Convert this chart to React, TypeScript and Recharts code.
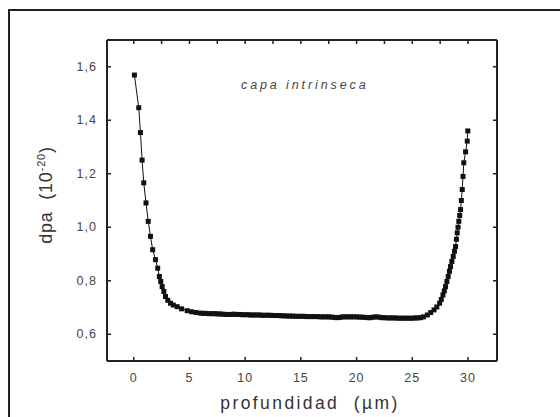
import React from 'react';
import { LineChart, Line, XAxis, YAxis } from 'recharts';

// profundidad (µm)
const depth = [
  0.06, 0.45, 0.6, 0.75, 0.9, 1.1, 1.3, 1.5, 1.7, 1.95, 2.15, 2.3, 2.42, 2.55, 2.7, 2.85, 3.05, 3.3, 3.55, 3.9,
  4.3, 4.8, 5.2, 5.6, 6.0,
  6.25, 6.5, 6.75, 7, 7.25, 7.5, 7.75, 8, 8.25, 8.5, 8.75, 9, 9.25, 9.5, 9.75, 10, 10.25, 10.5, 10.75, 11,
  11.25, 11.5, 11.75, 12, 12.25, 12.5, 12.75, 13, 13.25, 13.5, 13.75, 14, 14.25, 14.5, 14.75, 15, 15.25, 15.5,
  15.75, 16, 16.25, 16.5, 16.75, 17, 17.25, 17.5, 17.75, 18, 18.25, 18.5, 18.75, 19, 19.25, 19.5, 19.75, 20,
  20.25, 20.5, 20.75, 21, 21.25, 21.5, 21.75, 22, 22.25, 22.5, 22.75, 23, 23.25, 23.5, 23.75, 24, 24.25, 24.5,
  24.75, 25, 25.25, 25.5,
  25.75, 26.0, 26.35, 26.65, 26.95, 27.2, 27.45, 27.6, 27.75, 27.87, 27.98, 28.1, 28.22, 28.33, 28.43, 28.55,
  28.67, 28.78, 28.88, 28.96, 29.03, 29.1, 29.17, 29.25, 29.33, 29.4, 29.48, 29.55, 29.62, 29.78, 29.93, 29.98,
];

// dpa (10^-20)
const dpa = [
  1.569, 1.447, 1.354, 1.251, 1.166, 1.091, 1.022, 0.966, 0.916, 0.879, 0.847, 0.816, 0.797, 0.778, 0.76, 0.741,
  0.727, 0.716, 0.709, 0.703, 0.695, 0.688, 0.684, 0.681, 0.679,
  0.678, 0.678, 0.677, 0.677, 0.677, 0.676, 0.676, 0.675, 0.674, 0.674, 0.674, 0.675, 0.674, 0.674, 0.673, 0.673,
  0.673, 0.672, 0.672, 0.672, 0.672, 0.671, 0.671, 0.671, 0.671, 0.67, 0.67, 0.67, 0.669, 0.669, 0.668, 0.668,
  0.668, 0.667, 0.667, 0.667, 0.667, 0.666, 0.666, 0.666, 0.666, 0.666, 0.665, 0.665, 0.665, 0.665, 0.664, 0.663,
  0.662, 0.663, 0.665, 0.665, 0.665, 0.665, 0.665, 0.665, 0.664, 0.664, 0.663, 0.662, 0.662, 0.664, 0.665, 0.664,
  0.662, 0.662, 0.661, 0.661, 0.661, 0.661, 0.66, 0.66, 0.66, 0.66, 0.66, 0.66, 0.661, 0.661,
  0.662, 0.665, 0.672, 0.681, 0.691, 0.702, 0.716, 0.73, 0.747, 0.762, 0.778, 0.797, 0.816, 0.835, 0.853, 0.872,
  0.891, 0.91, 0.928, 0.955, 0.979, 1.0, 1.022, 1.044, 1.066, 1.1, 1.141, 1.19, 1.241, 1.282, 1.322, 1.36,
];

const xTicks = [0, 5, 10, 15, 20, 25, 30];
const xMinorTicks = [0, 2.5, 5, 7.5, 10, 12.5, 15, 17.5, 20, 22.5, 25, 27.5, 30];
const yTicks = [0.6, 0.8, 1.0, 1.2, 1.4, 1.6];

const data = depth.map((x, i) => ({ x, y: dpa[i] }));

const FONT = '"Liberation Sans", Arial, sans-serif';
const INK = '#222';

const BottomTick = (props: any) => {
  const { x, y, payload } = props;
  return (
    <g>
      <line x1={x} y1={y} x2={x} y2={y - 4} stroke={INK} strokeWidth={1.5} />
      <text x={x} y={y + 21} textAnchor="middle" fontSize={12.5} fill="#444" fontFamily={FONT} letterSpacing={1}>
        {payload.value}
      </text>
    </g>
  );
};

const TopTick = (props: any) => {
  const { x, y } = props;
  return <line x1={x} y1={y} x2={x} y2={y + 4} stroke={INK} strokeWidth={1.5} />;
};

const LeftTick = (props: any) => {
  const { x, y, payload } = props;
  return (
    <g>
      <line x1={x} y1={y} x2={x + 4} y2={y} stroke={INK} strokeWidth={1.5} />
      <text x={x - 10} y={y + 4} textAnchor="end" fontSize={12.5} fill="#444" fontFamily={FONT} letterSpacing={1}>
        {Number(payload.value).toFixed(1).replace('.', ',')}
      </text>
    </g>
  );
};

const RightTick = (props: any) => {
  const { x, y } = props;
  return <line x1={x} y1={y} x2={x - 4} y2={y} stroke={INK} strokeWidth={1.5} />;
};

const SquareDot = (props: any) => {
  const { cx, cy, index } = props;
  if (cx == null || cy == null) return null;
  return <rect key={`d-${index}`} x={cx - 2.5} y={cy - 2.5} width={5} height={5} fill="#111" />;
};

export default function App() {
  return (
    <div style={{ position: 'absolute', left: 0, top: 0, width: 560, height: 417, overflow: 'hidden', background: '#fff' }}>
      <div
        style={{
          position: 'absolute', left: 8, top: 9, width: 700, height: 600,
          borderLeft: `2px solid ${INK}`, borderTop: `2px solid ${INK}`,
        }}
      />
      <LineChart width={560} height={417} data={data} margin={{ top: 39, right: 62, bottom: 16, left: 47 }}>
        <XAxis
          xAxisId="b" dataKey="x" type="number" domain={[-2.4, 32.6]} ticks={xTicks} allowDataOverflow
          height={40} tickSize={0} tickMargin={0} tickLine={false} tick={<BottomTick />}
          axisLine={{ stroke: INK, strokeWidth: 2 }}
        />
        <XAxis
          xAxisId="t" orientation="top" dataKey="x" type="number" domain={[-2.4, 32.6]} ticks={xMinorTicks}
          allowDataOverflow height={1} tickSize={0} tickMargin={0} tickLine={false} tick={<TopTick />}
          axisLine={{ stroke: INK, strokeWidth: 2 }}
        />
        <YAxis
          yAxisId="l" type="number" domain={[0.5, 1.7]} ticks={yTicks} allowDataOverflow width={60}
          tickSize={0} tickMargin={0} tickLine={false} tick={<LeftTick />}
          axisLine={{ stroke: INK, strokeWidth: 2 }}
        />
        <YAxis
          yAxisId="r" orientation="right" type="number" domain={[0.5, 1.7]} ticks={yTicks} allowDataOverflow
          width={1} tickSize={0} tickMargin={0} tickLine={false} tick={<RightTick />}
          axisLine={{ stroke: INK, strokeWidth: 2 }}
        />
        <Line
          xAxisId="b" yAxisId="l" dataKey="y" type="linear" stroke="#111" strokeWidth={1}
          dot={<SquareDot />} activeDot={false} isAnimationActive={false}
        />
      </LineChart>
      <div
        style={{
          position: 'absolute', left: 241, top: 78, fontFamily: FONT, fontStyle: 'italic', fontSize: 12.5,
          letterSpacing: 2.9, color: '#444', whiteSpace: 'nowrap',
        }}
      >
        capa intrinseca
      </div>
      <div
        style={{
          position: 'absolute', left: 46, top: 195, transform: 'translate(-50%, -50%) rotate(-90deg)',
          fontFamily: FONT, fontSize: 18, letterSpacing: 0.8, color: '#333', whiteSpace: 'nowrap',
        }}
      >
        dpa&nbsp;&nbsp;(10<sup style={{ fontSize: 11 }}>-20</sup>)
      </div>
      <div
        style={{
          position: 'absolute', left: 190, width: 240, top: 393, textAlign: 'center', fontFamily: FONT,
          fontSize: 17.5, letterSpacing: 2.4, color: '#333', whiteSpace: 'nowrap',
        }}
      >
        profundidad&nbsp;&nbsp;(µm)
      </div>
    </div>
  );
}
